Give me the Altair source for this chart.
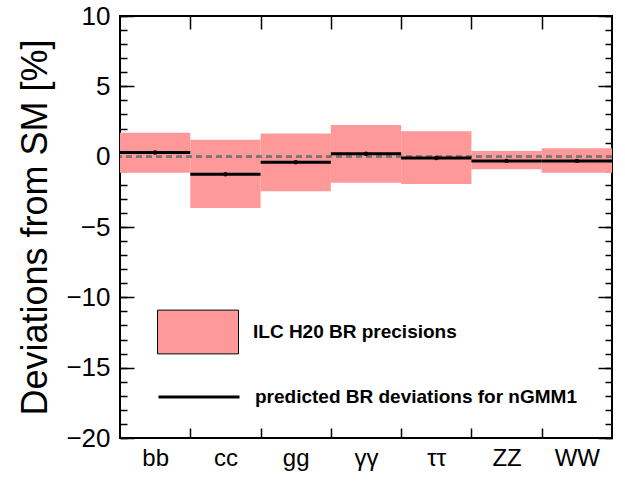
import json
import altair as alt
import pandas as pd

# ---- data ----
channels = ["bb", "cc", "gg", "γγ", "ττ", "ZZ", "WW"]
prec_hi = [1.7, 1.2, 1.65, 2.25, 1.8, 0.4, 0.6]
prec_lo = [-1.15, -3.65, -2.45, -1.85, -1.95, -0.9, -1.15]
pred_dev = [0.3, -1.25, -0.4, 0.2, -0.1, -0.3, -0.3]
y_major = [-20, -15, -10, -5, 0, 5, 10]
y_minor = list(range(-20, 11))
band_label = "ILC H20 BR precisions"
line_label = "predicted BR deviations for nGMM1"

n = len(channels)
df = pd.DataFrame({
    "channel": channels,
    "x0": list(range(n)),
    "x1": list(range(1, n + 1)),
    "xc": [i + 0.5 for i in range(n)],
    "lo": prec_lo,
    "hi": prec_hi,
    "pred": pred_dev,
    "band": band_label,
    "line": line_label,
})

FONT = "Liberation Sans"
xscale = alt.Scale(domain=[0, n], nice=False, zero=False)
yscale = alt.Scale(domain=[-20, 10], nice=False, zero=False)

label_expr = json.dumps(channels) + "[floor(datum.value)]"

ax_x_labels = alt.Axis(orient="bottom", values=[i + 0.5 for i in range(n)], labelExpr=label_expr,
                       ticks=False, tickSize=0, domain=False, grid=False, labelFontSize=24,
                       labelPadding=8, title=None, labelColor="black", labelFont=FONT)
common_tick = dict(domain=False, grid=False, labels=False, title=None, tickColor="black", tickWidth=1.5)
ax_x_top = alt.Axis(orient="top", values=list(range(1, n)), tickSize=13, offset=-13, **common_tick)
ax_x_bot = alt.Axis(orient="bottom", values=list(range(1, n)), tickSize=10, offset=-10, **common_tick)

ax_y_left = alt.Axis(orient="left", values=y_major, tickSize=14, offset=-14, domain=False, grid=False,
                     labelFontSize=26, labelPadding=10, labelColor="black", labelFont=FONT, format="d",
                     tickColor="black", tickWidth=1.5,
                     title="Deviations from SM [%]", titleFontSize=36, titleFontWeight="normal",
                     titleFont=FONT, titleColor="black", titlePadding=11)
ax_y_left_minor = alt.Axis(orient="left", values=y_minor, tickSize=7, offset=-7, **common_tick)
ax_y_right = alt.Axis(orient="right", values=y_major, tickSize=14, offset=-14, **common_tick)
ax_y_right_minor = alt.Axis(orient="right", values=y_minor, tickSize=7, offset=-7, **common_tick)

base = alt.Chart(df)

bands = base.mark_rect(stroke="black", strokeWidth=0).encode(
    x=alt.X("x0:Q", scale=xscale, axis=ax_x_labels),
    x2="x1:Q",
    y=alt.Y("lo:Q", scale=yscale, axis=ax_y_left),
    y2="hi:Q",
    fill=alt.Fill("band:N", scale=alt.Scale(range=["#ff9999"]),
                  legend=alt.Legend(title=None, orient="none", legendX=37, legendY=275, padding=0,
                                    symbolType="M-1,-0.54H1V0.54H-1Z", symbolSize=6561,
                                    symbolStrokeColor="black", symbolStrokeWidth=1,
                                    symbolOpacity=1, labelFont=FONT, labelFontSize=19,
                                    labelFontWeight="bold", labelColor="black",
                                    labelOffset=14, labelLimit=500)),
)

zero_line = alt.Chart(df).mark_rule(strokeDash=[6, 4], color="#777777", strokeWidth=2).encode(
    y=alt.datum(0, scale=yscale, axis=ax_y_right_minor),
)

pred_lines = base.mark_rule(strokeWidth=3).encode(
    x=alt.X("x0:Q", scale=xscale, axis=ax_x_top),
    x2="x1:Q",
    y=alt.Y("pred:Q", scale=yscale, axis=ax_y_left_minor),
    stroke=alt.Stroke("line:N", scale=alt.Scale(range=["black"]),
                      legend=alt.Legend(title=None, orient="none", legendX=37, legendY=339, padding=0,
                                        symbolType="stroke", symbolSize=6561, symbolStrokeWidth=3,
                                        labelFont=FONT, labelFontSize=19, labelFontWeight="bold",
                                        labelColor="black", labelOffset=14, labelLimit=500)),
)

pred_pts = base.mark_point(filled=True, color="black", size=20, opacity=1).encode(
    x=alt.X("xc:Q", scale=xscale, axis=ax_x_bot),
    y=alt.Y("pred:Q", scale=yscale, axis=ax_y_right),
)

chart = alt.layer(bands, zero_line, pred_lines, pred_pts).resolve_axis(
    x="independent", y="independent"
).resolve_legend(fill="independent", stroke="independent").properties(
    width=492, height=422,
    autosize=alt.AutoSizeParams(type="none"),
    padding={"left": 120, "top": 16, "right": 13, "bottom": 50},
    background="white",
).configure_view(stroke="black", strokeWidth=2)

chart.save("out.html", embed_options={"renderer": "svg", "actions": False})
